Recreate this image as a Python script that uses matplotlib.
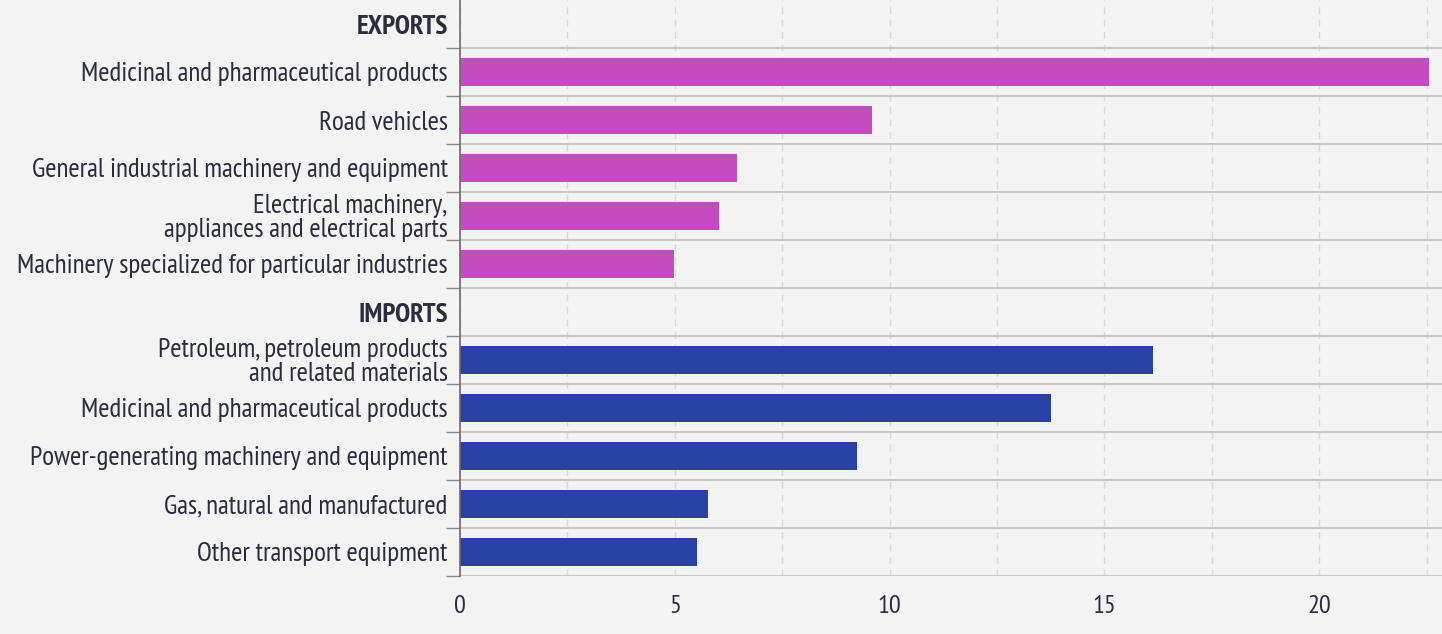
#Horizontal bar chart of top exports and imports.
import matplotlib.pyplot as plt
from matplotlib.ticker import MultipleLocator
import numpy as np

export_labels = ["Medicinal and pharmaceutical products", "Road vehicles",
                 "General industrial machinery and equipment",
                 "Electrical machinery,\nappliances and electrical parts",
                 "Machinery specialized for particular industries"]
export_values = [22.55, 9.6, 6.45, 6.03, 4.98]

import_labels = ["Petroleum, petroleum products\nand related materials",
                 "Medicinal and pharmaceutical products",
                 "Power-generating machinery and equipment",
                 "Gas, natural and manufactured", "Other transport equipment"]
import_values = [16.13, 13.76, 9.24, 5.77, 5.52]

x_ticks = [0, 5, 10, 15, 20]

BG = "#f3f3f4"
TEXT = "#2b2d3a"

def main():
    plt.rcParams['font.family'] = ['PT Sans Narrow', 'Roboto Condensed', 'DejaVu Sans']
    fig = plt.figure(figsize=(14.42, 6.34), dpi=100, facecolor=BG)
    ax = fig.add_axes([460 / 1442, 1 - 576 / 634, 982 / 1442, 576 / 634])
    ax.set_facecolor(BG)

    #Row order: header, exports, header, imports
    labels = ["EXPORTS"] + export_labels + ["IMPORTS"] + import_labels
    n = len(labels)
    y_exp = np.arange(1, 6)
    y_imp = np.arange(7, 12)

    ax.barh(y_exp, export_values, height=0.6, color="#c44bc0", zorder=3)
    ax.barh(y_imp, import_values, height=0.6, color="#2841a4", zorder=3)

    ax.set_ylim(n - 0.5, -0.5)
    ax.set_xlim(0, 22.86)

    ax.set_yticks(range(n))
    ax.set_yticklabels(labels, fontsize=19.5, color=TEXT, linespacing=0.95)
    for i in (0, 6):
        ax.get_yticklabels()[i].set_fontweight("bold")
    ax.set_yticks(np.arange(0.5, n, 1.0), minor=True)
    ax.tick_params(axis='y', which='major', length=0, pad=9)
    ax.tick_params(axis='y', which='minor', length=10, color="#8a8a8a", width=1)

    ax.set_xticks(x_ticks)
    ax.set_xticklabels([str(t) for t in x_ticks], fontsize=19, color=TEXT)
    ax.tick_params(axis='x', length=0, pad=14)

    #Grid lines
    ax.xaxis.set_minor_locator(MultipleLocator(2.5))
    ax.grid(True, axis='x', which='both', linestyle=(0, (5, 4)), color="#d8d8d8", lw=1, zorder=0)
    ax.grid(True, axis='y', which='minor', color="#c8c8c8", lw=1.5, zorder=1)
    ax.tick_params(axis='x', which='minor', length=0)

    for side in ("top", "right", "bottom"):
        ax.spines[side].set_visible(False)
    ax.spines["left"].set_color("#6b6b6b")
    ax.spines["left"].set_linewidth(1.2)
    ax.spines["left"].set_zorder(4)

    fig.savefig("out.png", facecolor=BG)

if __name__ == '__main__':
    main()
